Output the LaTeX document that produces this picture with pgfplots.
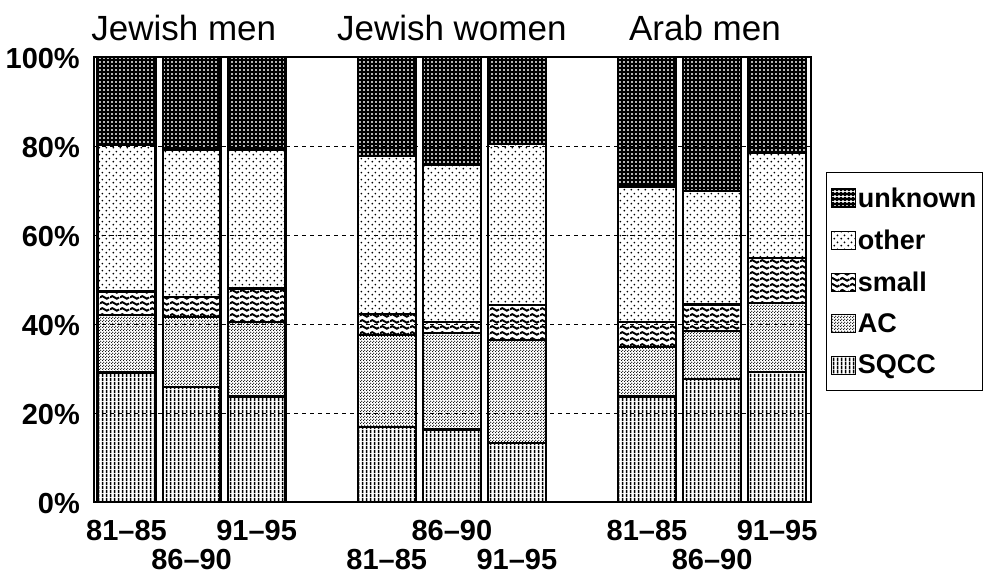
\documentclass[border=0pt]{standalone}
\usepackage{fontspec}
\setmainfont{Liberation Sans}
\usepackage{pgfplots}
\pgfplotsset{compat=1.18}
\usepackage{pgfplotstable}
\usetikzlibrary{patterns}

\pgfdeclarepatternformonly{sqccp}{\pgfpointorigin}{\pgfqpoint{3.6pt}{4pt}}{\pgfqpoint{3.6pt}{4pt}}{%
  \pgfsetlinewidth{1.7pt}%
  \pgfpathmoveto{\pgfqpoint{1.8pt}{0pt}}\pgfpathlineto{\pgfqpoint{1.8pt}{4pt}}\pgfusepath{stroke}}
\pgfdeclarepatternformonly{acp}{\pgfpointorigin}{\pgfqpoint{3pt}{3pt}}{\pgfqpoint{3pt}{3pt}}{%
  \pgfpathcircle{\pgfqpoint{0.75pt}{0.75pt}}{0.82pt}%
  \pgfpathcircle{\pgfqpoint{2.25pt}{2.25pt}}{0.82pt}\pgfusepath{fill}}
\pgfdeclarepatternformonly{smallp}{\pgfpointorigin}{\pgfqpoint{10pt}{6pt}}{\pgfqpoint{10pt}{6pt}}{%
  \pgfsetlinewidth{2.2pt}%
  \pgfpathmoveto{\pgfqpoint{0pt}{3pt}}%
  \pgfpathcurveto{\pgfqpoint{1.7pt}{5pt}}{\pgfqpoint{3.3pt}{5pt}}{\pgfqpoint{5pt}{3pt}}%
  \pgfpathcurveto{\pgfqpoint{6.7pt}{1pt}}{\pgfqpoint{8.3pt}{1pt}}{\pgfqpoint{10pt}{3pt}}%
  \pgfusepath{stroke}}
\pgfdeclarepatternformonly{otherp}{\pgfpointorigin}{\pgfqpoint{7pt}{7pt}}{\pgfqpoint{7pt}{7pt}}{%
  \pgfpathcircle{\pgfqpoint{1.5pt}{1.5pt}}{1.1pt}%
  \pgfpathcircle{\pgfqpoint{5pt}{5pt}}{1.1pt}\pgfusepath{fill}}
\pgfdeclarepatternformonly{unknownp}{\pgfpointorigin}{\pgfqpoint{4.4pt}{4.4pt}}{\pgfqpoint{4.4pt}{4.4pt}}{%
  \pgfsetlinewidth{2.5pt}%
  \pgfpathmoveto{\pgfqpoint{0pt}{2.2pt}}\pgfpathlineto{\pgfqpoint{4.4pt}{2.2pt}}%
  \pgfpathmoveto{\pgfqpoint{2.2pt}{0pt}}\pgfpathlineto{\pgfqpoint{2.2pt}{4.4pt}}%
  \pgfusepath{stroke}}

\pgfplotstableread{
x sqcc ac small other unknown
0  29.1 12.9 5.3 32.9 19.8
1  25.9 15.7 4.5 33.0 20.9
2  23.7 16.8 7.5 31.1 20.9
4  16.9 20.6 4.7 35.6 22.2
5  16.3 21.6 2.6 35.2 24.3
6  13.2 23.2 7.9 36.1 19.6
8  23.7 11.2 5.6 30.4 29.1
9  27.6 10.8 6.0 25.5 30.1
10 29.3 15.4 10.1 23.6 21.6
}\data

\pgfplotsset{mylegend/.style={legend image code/.code={%
  \draw[##1,line width=1.2pt] (0pt,-9pt) rectangle (24pt,9pt);}}}

\begin{document}
\begin{tikzpicture}
\useasboundingbox (-94pt,-74pt) rectangle (893pt,502pt);
\begin{axis}[
  at={(0,0)}, anchor=south west,
  scale only axis, width=717pt, height=445pt,
  ybar stacked, bar width=0.89,
  xmin=-0.4996, xmax=10.52, ymin=0, ymax=100,
  clip=false,
  axis line style={line width=1.8pt},
  major tick length=0pt,
  ytick={0,20,...,100},
  yticklabel={\pgfmathprintnumber{\tick}\%},
  /pgf/number format/assume math mode=true,
  ticklabel style={font=\bfseries\fontsize{29}{32}\selectfont},
  yticklabel style={anchor=east, inner sep=0pt, xshift=-14pt, yshift=-2pt},
  xtick={0,2,5,8,10},
  xticklabels={81--85,91--95,86--90,81--85,91--95},
  xticklabel style={anchor=north, inner sep=0pt, yshift=-18pt},
  extra x ticks={1,4,6,9},
  extra x tick labels={86--90,81--85,91--95,86--90},
  extra x tick style={grid=none, xticklabel style={yshift=-29pt}},
  ymajorgrids,
  grid style={black, line width=0.6pt, dash pattern=on 4pt off 4pt},
  every axis plot/.append style={draw=black, line width=2.2pt},
  legend style={at={(1.021,0.742)}, anchor=north west, draw=black, line width=1.4pt,
    font=\bfseries\fontsize{27}{30}\selectfont, row sep=17pt, inner xsep=4pt, inner ysep=13pt,
    cells={anchor=west}},
  reverse legend,
]
\addplot[pattern=sqccp, mylegend] table[x=x,y=sqcc]{\data};
\addplot[pattern=acp, mylegend] table[x=x,y=ac]{\data};
\addplot[pattern=smallp, mylegend] table[x=x,y=small]{\data};
\addplot[pattern=otherp, mylegend] table[x=x,y=other]{\data};
\addplot[pattern=unknownp, mylegend] table[x=x,y=unknown]{\data};
\legend{SQCC,AC,small,other,unknown}
\node[font=\fontsize{35}{40}\selectfont, anchor=base] at (axis cs:0.88,103.8) {Jewish men};
\node[font=\fontsize{35}{40}\selectfont, anchor=base] at (axis cs:5.0,103.8) {Jewish women};
\node[font=\fontsize{35}{40}\selectfont, anchor=base] at (axis cs:8.89,103.8) {Arab men};
\end{axis}
\end{tikzpicture}
\end{document}
